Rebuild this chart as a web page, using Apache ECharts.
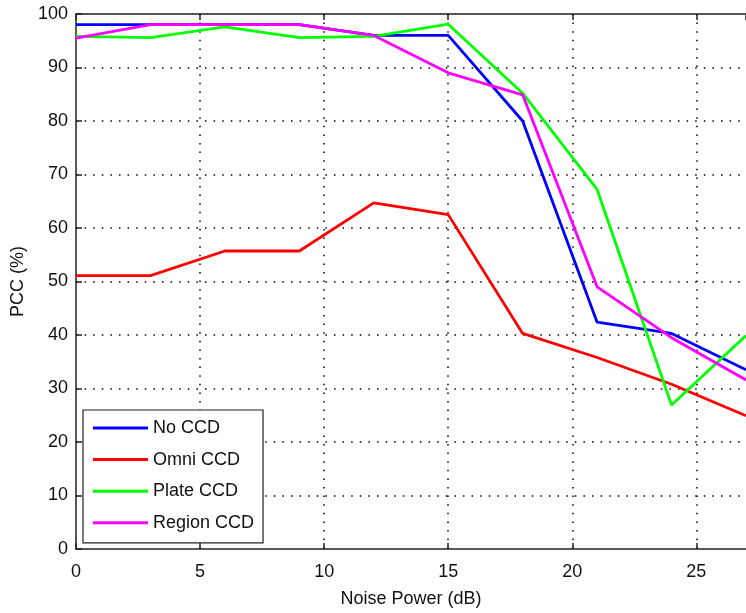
<!DOCTYPE html>
<html>
<head>
<meta charset="utf-8">
<script src="https://cdn.jsdelivr.net/npm/echarts@6/dist/echarts.min.js"></script>
<style>
html,body{margin:0;padding:0;background:#fff;}
#chart{width:746px;height:613px;}
</style>
</head>
<body>
<div id="chart"></div>
<script>
const noisePower = [0, 3, 6, 9, 12, 15, 18, 21, 24, 27];
const noCCD     = [98, 98, 98, 98, 96, 96, 80, 42.4, 40.3, 33.5];
const omniCCD   = [51.1, 51.1, 55.7, 55.7, 64.7, 62.5, 40.3, 35.8, 30.8, 24.9];
const plateCCD  = [95.8, 95.6, 97.6, 95.6, 95.8, 98.1, 85.2, 67.2, 26.9, 39.9];
const regionCCD = [95.5, 98, 98, 98, 96, 89, 84.9, 49, 39.5, 31.6];
const seriesNames = ['No CCD', 'Omni CCD', 'Plate CCD', 'Region CCD'];
const seriesColors = ['#0000ff', '#ff0000', '#00ff00', '#ff00ff'];
const seriesData = [noCCD, omniCCD, plateCCD, regionCCD];

const FONT = 'Liberation Sans';
const chart = echarts.init(document.getElementById('chart'), null, {renderer: 'canvas'});

const gridStyle = {color: '#000', width: 1.5, type: [1.5, 7.1]};
const axisLineStyle = {color: '#222', width: 1.5};

chart.setOption({
  backgroundColor: '#fff',
  animation: false,
  grid: {left: 76, top: 14, width: 676, height: 536, containLabel: false},
  legend: {
    orient: 'vertical',
    left: 83, top: 410,
    padding: [9, 9, 11, 10],
    itemGap: 13.6,
    itemWidth: 55, itemHeight: 3,
    icon: 'rect',
    borderColor: '#222', borderWidth: 1.2,
    backgroundColor: '#fff',
    textStyle: {fontFamily: FONT, fontSize: 18, color: '#111', lineHeight: 18},
    data: seriesNames
  },
  xAxis: [{
    type: 'value', min: 0, max: 27, interval: 5,
    name: 'Noise Power (dB)', nameLocation: 'middle', nameGap: 41,
    nameTextStyle: {fontFamily: FONT, fontSize: 18, color: '#111'},
    axisLine: {show: true, lineStyle: axisLineStyle},
    axisTick: {show: true, inside: true, length: 6, lineStyle: axisLineStyle},
    axisLabel: {fontFamily: FONT, fontSize: 18, color: '#111', margin: 14, showMaxLabel: false},
    splitLine: {show: true, showMinLine: false, showMaxLine: false, lineStyle: gridStyle}
  }, {
    type: 'value', min: 0, max: 27, interval: 5, position: 'top',
    axisLine: {show: true, onZero: false, lineStyle: axisLineStyle},
    axisTick: {show: true, inside: true, length: 6, lineStyle: axisLineStyle},
    axisLabel: {show: false},
    splitLine: {show: false}
  }],
  yAxis: [{
    type: 'value', min: 0, max: 100, interval: 10,
    name: 'PCC (%)', nameLocation: 'middle', nameGap: 45,
    nameTextStyle: {fontFamily: FONT, fontSize: 18, color: '#111'},
    axisLine: {show: true, lineStyle: axisLineStyle},
    axisTick: {show: true, inside: true, length: 6, lineStyle: axisLineStyle},
    axisLabel: {fontFamily: FONT, fontSize: 18, color: '#111', margin: 8},
    splitLine: {show: true, showMinLine: false, showMaxLine: false, lineStyle: gridStyle}
  }],
  series: seriesNames.map((n, i) => ({
    name: n,
    type: 'line',
    xAxisIndex: 0,
    data: noisePower.map((x, j) => [x, seriesData[i][j]]),
    showSymbol: false,
    symbol: 'none',
    lineStyle: {color: seriesColors[i], width: 2.8},
    itemStyle: {color: seriesColors[i]},
    clip: true
  }))
});
</script>
</body>
</html>
